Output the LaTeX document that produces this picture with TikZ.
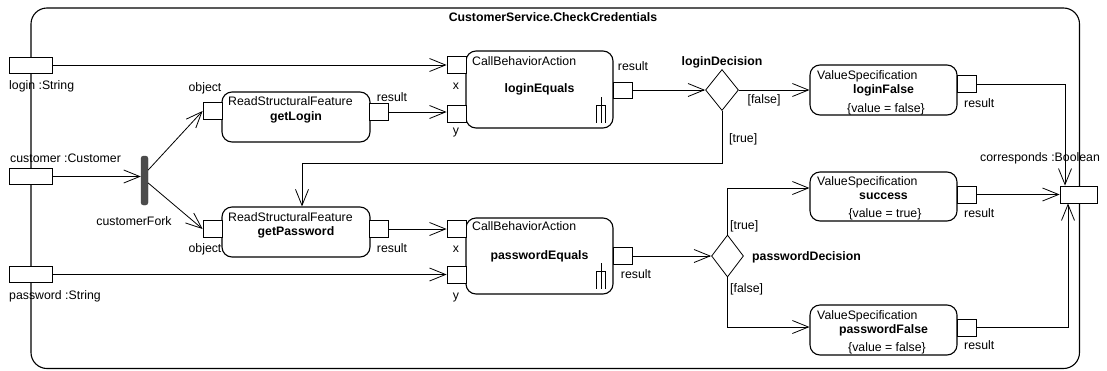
\documentclass[tikz,border=0pt]{standalone}
\usepackage{fontspec}
\setmainfont{Liberation Sans}
\usetikzlibrary{shapes.geometric,arrows.meta}

\tikzset{
  act/.style={draw,rounded corners=10pt,line width=1.1pt,minimum width=147pt,minimum height=50pt,inner sep=0pt,font=\bfseries},
  pinbox/.style={draw,fill=white,line width=0.8pt,minimum width=19pt,minimum height=17pt,inner sep=0pt},
  parbox/.style={draw,fill=white,line width=0.8pt,minimum width=43pt,minimum height=16pt,inner sep=0pt},
  decision/.style={draw,diamond,fill=white,line width=0.8pt,inner sep=0pt,minimum width=33pt,minimum height=41pt},
  flow/.style={line width=0.8pt,-{Straight Barb[length=16pt,width=13pt]}},
  txt/.style={inner sep=0pt,text height=8.6pt,text depth=0pt},
}

\begin{document}
\fontsize{12.3}{14}\selectfont
\begin{tikzpicture}[x=1pt,y=-1pt]
        \useasboundingbox (0,0) rectangle (1107,370);
        \draw[line width=1.1pt,rounded corners=16pt] (31,8) rectangle (1079.5,368.5);
        \node[txt,font=\bfseries] (title) at (553,17) {CustomerService.CheckCredentials};

        \node[parbox] (loginIn) at (31,65) {};
        \node[parbox] (customerIn) at (31,176.5) {};
        \node[parbox] (passwordIn) at (31,274.5) {};
        \node[txt,anchor=west] (tLogin) at (9,85) {login :String};
        \node[txt,anchor=west] (tCustomer) at (10,158) {customer :Customer};
        \node[txt,anchor=west] (tPassword) at (9,295) {password :String};

        \node[draw=black!75,fill=black!70,rounded corners=2.5pt,minimum width=7pt,minimum height=49pt,inner sep=0pt] (fork) at (144.5,180.5) {};
        \node[txt] (tFork) at (134,221) {customerFork};

        \node[act,minimum width=148pt] (getLogin) at (296,117) {getLogin};
        \node[act,minimum width=148pt] (getPassword) at (296,232) {getPassword};
        \node[act,minimum height=77pt] (loginEquals) at (539.5,89.5) {loginEquals};
        \node[act,minimum height=76pt] (passwordEquals) at (539.5,256) {passwordEquals};
        \node[act] (loginFalse) at (883.5,90) {loginFalse};
        \node[act,minimum height=49pt] (success) at (883.5,196.5) {success};
        \node[act] (passwordFalse) at (883.5,330) {passwordFalse};

        \node[txt,anchor=west] (k1) at (228,101.5) {ReadStructuralFeature};
        \node[txt,anchor=west] (k2) at (228,217) {ReadStructuralFeature};
        \node[txt,anchor=west] (k3) at (472,61) {CallBehaviorAction};
        \node[txt,anchor=west] (k4) at (472,226) {CallBehaviorAction};
        \node[txt,anchor=west] (k5) at (817,75) {ValueSpecification};
        \node[txt,anchor=west] (k6) at (817,181.5) {ValueSpecification};
        \node[txt,anchor=west] (k7) at (817,315) {ValueSpecification};
        \node[txt] (v1) at (886,108) {\{value = false\}};
        \node[txt] (v2) at (885,213) {\{value = true\}};
        \node[txt] (v3) at (887,347) {\{value = false\}};

        \foreach \a in {loginEquals,passwordEquals}{
          \draw[line width=0.8pt] ([shift={(-12.5,-6)}]\a.south east) -- ++(0,-26);
          \draw[line width=0.8pt] ([shift={(-17,-6)}]\a.south east) -- ++(0,-17) -- ++(9,0) -- ++(0,17);
        }

        \node[pinbox] (getLoginObj) at (212.5,111) {};
        \node[pinbox] (getLoginRes) at (379,112) {};
        \node[pinbox] (getPasswordObj) at (212.5,229) {};
        \node[pinbox] (getPasswordRes) at (379,229) {};
        \node[pinbox] (loginEqX) at (456.5,65) {};
        \node[pinbox] (loginEqY) at (456.5,114) {};
        \node[pinbox,minimum height=16pt] (loginEqRes) at (622.5,90) {};
        \node[pinbox] (pwEqX) at (456.5,229) {};
        \node[pinbox] (pwEqY) at (456.5,275) {};
        \node[pinbox] (pwEqRes) at (622.5,256) {};
        \node[pinbox] (loginFalseRes) at (966.5,84) {};
        \node[pinbox] (successRes) at (966.5,194.5) {};
        \node[pinbox] (pwFalseRes) at (966.5,327.5) {};
        \node[parbox,minimum width=37pt,minimum height=17pt] (corr) at (1078.5,194.5) {};

        \node[txt] (tObj1) at (205,87) {object};
        \node[txt] (tObj2) at (205,248) {object};
        \node[txt] (tRes1) at (392,97) {result};
        \node[txt] (tRes2) at (392,248) {result};
        \node[txt] (tX1) at (456,85) {x};
        \node[txt] (tY1) at (456,130) {y};
        \node[txt] (tX2) at (456,248) {x};
        \node[txt] (tY2) at (456,295) {y};
        \node[txt] (tRes3) at (633,66) {result};
        \node[txt] (tRes4) at (636,274) {result};
        \node[txt,anchor=west] (tRes5) at (964,103) {result};
        \node[txt,anchor=west] (tRes6) at (964,213) {result};
        \node[txt,anchor=west] (tRes7) at (964,345) {result};
        \node[txt,anchor=west] (tCorr) at (980,157) {corresponds :Boolean};

        \node[decision] (loginDec) at (722,90) {};
        \node[decision,minimum width=32pt,minimum height=42pt] (pwDec) at (727.5,256) {};
        \node[txt,font=\bfseries] (tLoginDec) at (722,61) {loginDecision};
        \node[txt,font=\bfseries,anchor=west] (tPwDec) at (752,256) {passwordDecision};
        \node[txt] (gFalse1) at (764,99) {[false]};
        \node[txt,anchor=west] (gTrue1) at (729,138) {[true]};
        \node[txt,anchor=west] (gTrue2) at (730,225) {[true]};
        \node[txt,anchor=west] (gFalse2) at (730,288) {[false]};

        \draw[flow] (loginIn.east) -- (loginEqX.west);
        \draw[flow] (customerIn.east) -- (customerIn.east -| fork.west);
        \draw[flow] ([yshift=10.5pt]fork.east) -- (getLoginObj.west);
        \draw[flow] ([yshift=-2.5pt]fork.east) -- (getPasswordObj.west);
        \draw[flow] (getLoginRes.east) -- (getLoginRes.east -| loginEqY.west);
        \draw[flow] (getPasswordRes.east) -- (pwEqX.west);
        \draw[flow] (passwordIn.east) -- (passwordIn.east -| pwEqY.west);
        \draw[flow] (loginEqRes.east) -- (loginDec.west);
        \draw[flow] (loginDec.east) -- (loginFalse.west);
        \draw[flow] (loginDec.south) -- ++(0,52.5) -| ([xshift=6pt]getPassword.north);
        \draw[flow] (pwEqRes.east) -- (pwDec.west);
        \draw[flow] (pwDec.north) |- ([yshift=8.5pt]success.west);
        \draw[flow] (pwDec.south) |- ([yshift=3pt]passwordFalse.west);
        \draw[flow] (loginFalseRes.east) -| ([xshift=-13.5pt]corr.north);
        \draw[flow] (successRes.east) -- (corr.west);
        \draw[flow] (pwFalseRes.east) -| ([xshift=-10.5pt]corr.south);
\end{tikzpicture}
\end{document}
